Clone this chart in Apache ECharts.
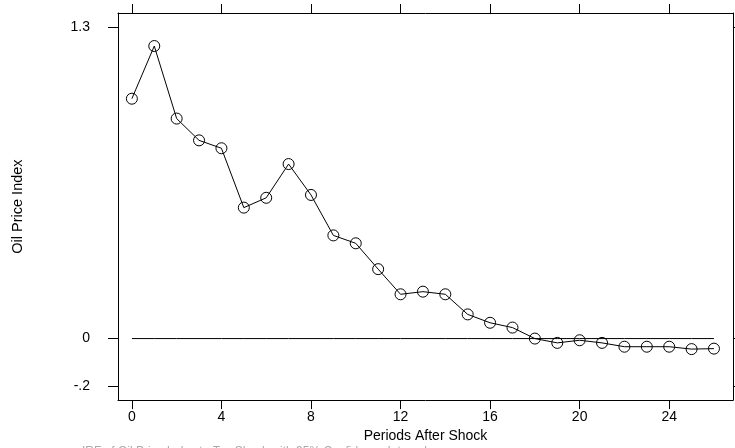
<!DOCTYPE html>
<html><head><meta charset="utf-8">
<script src="https://cdn.jsdelivr.net/npm/echarts@6/dist/echarts.min.js"></script>
<style>html,body{margin:0;padding:0;background:#fff}#c{width:735px;height:448px}</style>
</head><body><div id="c"></div>
<script>
const periods = [0,1,2,3,4,5,6,7,8,9,10,11,12,13,14,15,16,17,18,19,20,21,22,23,24,25,26];
const oilIndex = [1.002,1.222,0.919,0.828,0.795,0.547,0.588,0.729,0.600,0.431,0.398,0.290,0.185,0.196,0.185,0.101,0.066,0.046,0.000,-0.018,-0.007,-0.018,-0.034,-0.034,-0.034,-0.044,-0.042];
const zeroLine = periods.map(() => 0);
const xTicks = [0,4,8,12,16,20,24];
const yTicks = [-0.2,0,1.3];
const yTickText = {'-0.2':'-.2','0':'0','1.3':'1.3'};

const font = 'Liberation Sans';
const chart = echarts.init(document.getElementById('c'));
const axLine = {show:true, onZero:false, lineStyle:{color:'#000', width:1}};
chart.setOption({
  animation:false,
  backgroundColor:'#fff',
  grid:{left:118, right:2, top:13, bottom:45, show:false},
  xAxis:[{
    type:'value', min:-0.62, max:26.85, position:'bottom',
    name:'Periods After Shock', nameLocation:'middle', nameGap:27,
    nameTextStyle:{fontFamily:font, fontSize:14, color:'#000'},
    axisLine:axLine, splitLine:{show:false},
    axisTick:{show:true, customValues:xTicks, length:9, lineStyle:{color:'#000'}},
    axisLabel:{customValues:xTicks, fontFamily:font, fontSize:14, color:'#000', margin:10}
  },{
    type:'value', min:-0.62, max:26.85, position:'top',
    axisLine:axLine, splitLine:{show:false},
    axisTick:{show:true, customValues:xTicks, length:9, lineStyle:{color:'#000'}},
    axisLabel:{show:false}
  }],
  yAxis:[{
    type:'value', min:-0.257, max:1.36, position:'left',
    name:'Oil Price Index', nameLocation:'middle', nameGap:93, nameRotate:90,
    nameTextStyle:{fontFamily:font, fontSize:14.5, color:'#000'},
    axisLine:axLine, splitLine:{show:false},
    axisTick:{show:true, customValues:yTicks, length:10, lineStyle:{color:'#000'}},
    axisLabel:{customValues:yTicks, fontFamily:font, fontSize:14, color:'#000', margin:28,
      formatter:v => yTickText[String(Math.round(v*10)/10)] ?? String(v)}
  },{
    type:'value', min:-0.257, max:1.36, position:'right',
    axisLine:axLine, splitLine:{show:false},
    axisTick:{show:true, customValues:yTicks, length:8, lineStyle:{color:'#000'}},
    axisLabel:{show:false}
  }],
  series:[{
    type:'line', data:periods.map((p,i)=>[p,zeroLine[i]]), symbol:'none',
    lineStyle:{color:'#000', width:1}, z:1, silent:true
  },{
    type:'line', data:periods.map((p,i)=>[p,oilIndex[i]]),
    symbol:'circle', symbolSize:11, showAllSymbol:true,
    itemStyle:{color:'rgba(255,255,255,0)', borderColor:'#000', borderWidth:1},
    lineStyle:{color:'#000', width:1}, z:2
  }],
  graphic:[{
    type:'text', left:82, top:446,
    style:{text:'IRF of Oil Price Index to Tax Shock with 95% Confidence Interval', fill:'#aaa', font:'12px Liberation Sans'}
  }]
});
</script></body></html>
